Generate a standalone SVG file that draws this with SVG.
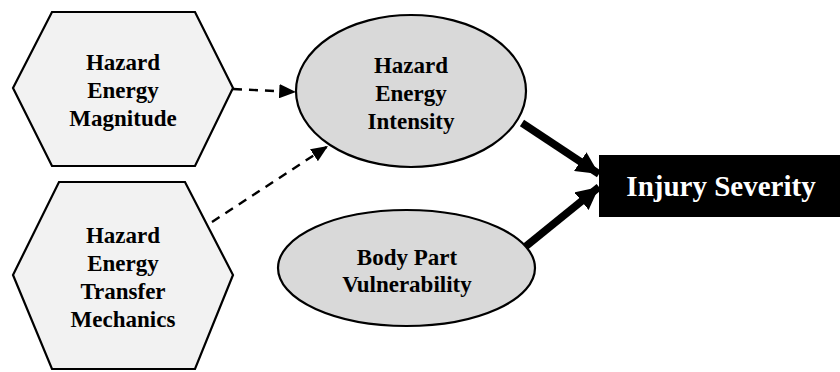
<svg xmlns="http://www.w3.org/2000/svg" width="840" height="372" viewBox="0 0 840 372">
<style>
.hex{fill:#f2f2f2;stroke:#000;stroke-width:2.2}
.ell{fill:#d9d9d9;stroke:#000;stroke-width:2.2}
.t{font-family:"Liberation Serif","Times New Roman",serif;font-weight:bold;font-size:23px;fill:#000;text-anchor:middle}
.big{font-family:"Liberation Serif","Times New Roman",serif;font-weight:bold;font-size:29px;fill:#fff;text-anchor:middle}
.dash{fill:none;stroke:#000;stroke-width:2.4;stroke-dasharray:9 7}
.thick{fill:none;stroke:#000;stroke-width:7.5}
</style>
<defs>
<marker id="ah" markerWidth="7" markerHeight="6" refX="7" refY="3" orient="auto" markerUnits="strokeWidth">
<path d="M0,0 L7,3 L0,6 Z" fill="#000"/>
</marker>
<marker id="ahb" markerWidth="3" markerHeight="3" refX="3" refY="1.5" orient="auto" markerUnits="strokeWidth">
<path d="M0,0 L3,1.5 L0,3 Z" fill="#000"/>
</marker>
</defs>
<g id="connectors">
<line class="dash" x1="233" y1="89" x2="296" y2="92" marker-end="url(#ah)"/>
<line class="dash" x1="212" y1="222" x2="328" y2="146" marker-end="url(#ah)"/>
<line class="thick" x1="522" y1="123" x2="599" y2="174" marker-end="url(#ahb)"/>
<line class="thick" x1="525" y1="247" x2="599" y2="187" marker-end="url(#ahb)"/>
</g>
<g id="magnitude">
<polygon class="hex" points="52,12 195,12 233,88 195,166 52,166 13,88"/>
<text class="t" x="123" y="70">Hazard</text>
<text class="t" x="123" y="98">Energy</text>
<text class="t" x="123" y="126">Magnitude</text>
</g>
<g id="transfer">
<polygon class="hex" points="59,182 185,182 233,275 195,369 52,369 13,275"/>
<text class="t" x="123" y="243">Hazard</text>
<text class="t" x="123" y="271">Energy</text>
<text class="t" x="123" y="299">Transfer</text>
<text class="t" x="123" y="327">Mechanics</text>
</g>
<g id="intensity">
<ellipse class="ell" cx="411" cy="91" rx="115" ry="76"/>
<text class="t" x="411" y="73">Hazard</text>
<text class="t" x="411" y="101">Energy</text>
<text class="t" x="411" y="129">Intensity</text>
</g>
<g id="vulnerability">
<ellipse class="ell" cx="406.5" cy="268" rx="128.5" ry="58"/>
<text class="t" x="407" y="265">Body Part</text>
<text class="t" x="407" y="292">Vulnerability</text>
</g>
<g id="severity">
<rect x="599" y="155" width="241" height="62" fill="#000"/>
<text class="big" x="721" y="196">Injury Severity</text>
</g>
</svg>
